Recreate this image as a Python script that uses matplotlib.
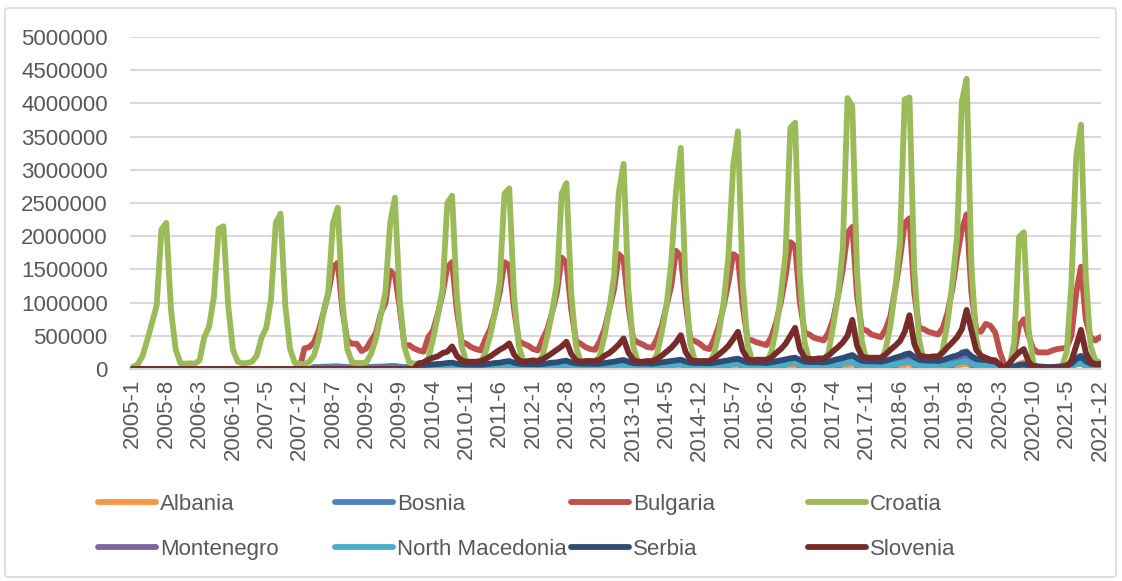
import numpy as np
import matplotlib
matplotlib.use('Agg')
import matplotlib.pyplot as plt
from matplotlib.patches import FancyBboxPatch

plt.rcParams['font.family'] = ['Liberation Sans', 'DejaVu Sans']

# monthly values 2005-1 .. 2021-12, in thousands (one line per year)
albania = [0] * 132 + [
    10, 10, 15, 20, 30, 40, 50, 55, 35, 20, 10, 10,
    10, 10, 15, 25, 35, 45, 60, 65, 40, 20, 10, 10,
    10, 10, 15, 25, 35, 45, 60, 70, 40, 20, 10, 10,
    10, 10, 15, 25, 35, 50, 65, 75, 45, 20, 10, 10,
    10, 10, 5, 0, 5, 30, 80, 100, 40, 10, 5, 5,
    5, 5, 5, 10, 20, 40, 70, 80, 40, 20, 10, 10,
]
bosnia = [0] * 36 + [
    0, 0, 30, 30, 35, 35, 40, 40, 35, 30, 30, 30,
    30, 30, 30, 35, 35, 40, 45, 45, 35, 30, 30, 30,
    40, 40, 45, 50, 55, 60, 65, 70, 55, 50, 45, 45,
    45, 45, 50, 55, 60, 70, 80, 85, 65, 55, 50, 50,
    50, 50, 55, 60, 70, 75, 85, 90, 70, 60, 55, 55,
    55, 50, 55, 65, 75, 80, 90, 100, 75, 60, 55, 55,
    55, 55, 60, 70, 80, 90, 100, 105, 80, 65, 60, 60,
    60, 55, 65, 75, 85, 95, 110, 115, 90, 70, 65, 65,
    65, 60, 70, 80, 95, 105, 120, 130, 100, 75, 70, 70,
    70, 65, 75, 90, 105, 120, 140, 150, 110, 85, 75, 75,
    75, 70, 85, 100, 120, 135, 155, 165, 125, 95, 85, 80,
    80, 75, 90, 110, 130, 145, 170, 180, 135, 100, 90, 85,
    75, 70, 35, 10, 15, 25, 40, 50, 40, 30, 25, 20,
    20, 20, 25, 30, 40, 55, 100, 120, 80, 55, 45, 45,
]
bulgaria = [0] * 36 + [
    310, 330, 400, 580, 850, 1130, 1530, 1600, 880, 430, 380, 380,
    270, 310, 430, 540, 830, 990, 1480, 1410, 930, 360, 360, 310,
    280, 260, 480, 580, 830, 1130, 1530, 1610, 880, 410, 380, 330,
    300, 280, 450, 600, 850, 1150, 1610, 1560, 900, 420, 380, 350,
    300, 280, 450, 600, 850, 1150, 1680, 1600, 900, 420, 380, 330,
    300, 290, 420, 600, 900, 1200, 1730, 1650, 950, 450, 400, 370,
    330, 320, 450, 650, 950, 1250, 1780, 1700, 1000, 450, 420, 380,
    320, 300, 450, 650, 950, 1300, 1730, 1680, 950, 450, 430, 400,
    380, 360, 480, 700, 1000, 1400, 1910, 1850, 1000, 550, 520, 470,
    450, 430, 550, 750, 1100, 1500, 2050, 2140, 1100, 600, 580, 520,
    500, 480, 600, 800, 1200, 1650, 2200, 2270, 1150, 620, 600, 560,
    540, 520, 620, 850, 1200, 1700, 2100, 2330, 1150, 600, 560, 680,
    650, 550, 250, 50, 60, 250, 650, 750, 500, 300, 250, 250,
    250, 280, 300, 310, 320, 500, 1150, 1540, 750, 480, 430, 480,
]
croatia = [
    30, 70, 190, 430, 690, 960, 2100, 2200, 890, 290, 85, 80,
    85, 80, 130, 480, 640, 1080, 2110, 2150, 960, 290, 110, 85,
    90, 110, 200, 470, 620, 1050, 2200, 2340, 950, 300, 90, 80,
    70, 110, 200, 450, 850, 1150, 2200, 2430, 1000, 300, 100, 90,
    90, 100, 230, 450, 800, 1150, 2200, 2580, 1050, 330, 100, 80,
    80, 90, 150, 450, 800, 1200, 2500, 2610, 1100, 350, 100, 80,
    80, 100, 250, 500, 850, 1300, 2640, 2720, 1100, 350, 100, 80,
    80, 100, 200, 500, 850, 1300, 2640, 2800, 1150, 350, 100, 80,
    80, 100, 200, 500, 900, 1400, 2660, 3090, 1200, 350, 100, 80,
    80, 100, 220, 550, 950, 1600, 2690, 3330, 1250, 380, 110, 90,
    90, 100, 230, 550, 1000, 1700, 3060, 3580, 1300, 380, 110, 90,
    90, 110, 250, 600, 1100, 1750, 3630, 3710, 1400, 400, 110, 90,
    90, 110, 250, 650, 1100, 1800, 4080, 3960, 1450, 420, 120, 90,
    90, 110, 300, 650, 1200, 1900, 4060, 4090, 1500, 450, 120, 90,
    90, 110, 300, 700, 1300, 2000, 4030, 4370, 1550, 450, 130, 100,
    100, 110, 20, 5, 30, 400, 1990, 2060, 600, 80, 20, 20,
    20, 20, 30, 40, 250, 1300, 3200, 3680, 1400, 350, 130, 100,
]
montenegro = [0] * 60 + [
    5, 5, 5, 8, 15, 30, 50, 55, 20, 8, 5, 5,
    5, 5, 6, 10, 20, 35, 55, 60, 25, 10, 5, 5,
    5, 5, 6, 10, 20, 40, 60, 65, 25, 10, 5, 5,
    5, 5, 6, 10, 25, 45, 70, 75, 30, 10, 5, 5,
    5, 5, 7, 12, 25, 50, 80, 85, 30, 10, 5, 5,
    5, 5, 7, 12, 30, 60, 95, 105, 35, 12, 6, 6,
    6, 6, 8, 15, 35, 70, 130, 140, 40, 15, 6, 6,
    6, 6, 8, 15, 40, 90, 170, 190, 50, 15, 7, 7,
    7, 7, 9, 18, 50, 110, 220, 230, 60, 18, 7, 7,
    7, 7, 10, 20, 55, 120, 250, 265, 65, 20, 8, 8,
    6, 5, 3, 1, 2, 10, 50, 60, 15, 5, 3, 3,
    3, 3, 3, 5, 15, 60, 170, 200, 50, 10, 5, 5,
]
north_macedonia = [0] * 60 + [
    20, 20, 25, 30, 35, 40, 45, 50, 35, 30, 25, 25,
    25, 25, 30, 35, 40, 45, 55, 60, 40, 30, 25, 25,
    25, 25, 30, 35, 40, 50, 60, 65, 45, 35, 30, 30,
    30, 30, 35, 40, 45, 55, 65, 70, 50, 35, 30, 30,
    30, 30, 35, 45, 50, 60, 70, 75, 55, 40, 35, 35,
    35, 30, 40, 45, 55, 65, 75, 85, 60, 45, 40, 40,
    35, 35, 40, 50, 60, 70, 85, 95, 65, 50, 45, 40,
    40, 40, 45, 55, 65, 80, 95, 105, 70, 50, 45, 45,
    45, 40, 50, 60, 70, 85, 100, 110, 75, 55, 50, 45,
    45, 45, 50, 65, 75, 90, 105, 115, 80, 60, 50, 50,
    45, 40, 20, 5, 5, 10, 20, 30, 25, 15, 10, 10,
    10, 10, 10, 15, 20, 35, 70, 85, 50, 30, 25, 25,
]
serbia = [0] * 60 + [
    60, 60, 65, 70, 75, 80, 90, 95, 80, 70, 65, 65,
    65, 65, 70, 80, 90, 95, 110, 120, 95, 80, 75, 75,
    75, 70, 75, 85, 95, 100, 115, 125, 100, 85, 80, 80,
    80, 75, 80, 90, 100, 110, 125, 135, 110, 90, 85, 85,
    85, 80, 90, 100, 110, 120, 130, 140, 115, 95, 90, 90,
    90, 85, 95, 105, 120, 130, 145, 155, 125, 100, 95, 95,
    95, 90, 100, 115, 130, 145, 160, 170, 140, 110, 105, 105,
    105, 100, 110, 130, 150, 165, 190, 210, 160, 125, 115, 115,
    115, 110, 125, 145, 170, 190, 215, 235, 180, 140, 130, 125,
    125, 120, 135, 160, 185, 205, 235, 255, 195, 150, 140, 135,
    120, 110, 60, 15, 25, 40, 60, 70, 55, 45, 40, 35,
    30, 30, 35, 40, 55, 80, 150, 185, 120, 80, 70, 70,
]
slovenia = [0] * 60 + [
    85, 100, 140, 170, 190, 240, 260, 340, 200, 130, 110, 110,
    110, 120, 150, 190, 240, 290, 330, 385, 220, 130, 110, 120,
    130, 120, 150, 190, 240, 290, 340, 410, 230, 130, 110, 120,
    120, 120, 140, 200, 240, 300, 370, 460, 250, 140, 110, 110,
    120, 120, 150, 200, 260, 320, 400, 510, 260, 140, 120, 120,
    120, 120, 160, 220, 280, 350, 450, 560, 280, 150, 130, 140,
    140, 140, 170, 240, 300, 380, 500, 620, 300, 170, 150, 150,
    160, 160, 200, 270, 330, 400, 500, 740, 350, 190, 170, 170,
    170, 170, 220, 290, 350, 420, 560, 810, 380, 210, 190, 180,
    190, 190, 250, 330, 400, 480, 600, 890, 580, 290, 200, 170,
    140, 130, 60, 5, 90, 180, 250, 300, 110, 40, 20, 20,
    15, 15, 15, 20, 30, 130, 350, 590, 250, 110, 70, 80,
]

months = [f'{y}-{m}' for y in range(2005, 2022) for m in range(1, 13)]

series = [
    ('Albania', albania, '#F79646'),
    ('Bosnia', bosnia, '#4F81BD'),
    ('Bulgaria', bulgaria, '#C0504D'),
    ('Croatia', croatia, '#9BBB59'),
    ('Montenegro', montenegro, '#8064A2'),
    ('North Macedonia', north_macedonia, '#4BACC6'),
    ('Serbia', serbia, '#2C4D75'),
    ('Slovenia', slovenia, '#772C2A'),
]

fig = plt.figure(figsize=(11.22, 5.81), dpi=100)
ax = fig.add_axes([130 / 1122, 1 - 369 / 581, (1101 - 130) / 1122, (369 - 37) / 581])

x = np.arange(len(months))
handles = []
for name, vals, col in series:
    h, = ax.plot(x, np.array(vals) * 1000, color=col, lw=4.2,
                 solid_capstyle='round', solid_joinstyle='round', label=name)
    handles.append(h)

ax.set_xlim(-0.6, 203.2)
ax.set_ylim(0, 5000000)
ax.set_yticks(np.arange(0, 5000001, 500000))
ax.set_yticklabels([str(v) for v in range(0, 5000001, 500000)])
ax.set_xticks(x[::7])
ax.set_xticklabels(months[::7], rotation=90)
ax.tick_params(axis='y', length=0, pad=16, labelsize=16, labelcolor='#595959')
ax.tick_params(axis='x', length=0, pad=7, labelsize=16, labelcolor='#595959')
ax.grid(axis='y', color='#D9D9D9', lw=1.5)
ax.set_axisbelow(True)
for s in ['top', 'right', 'left']:
    ax.spines[s].set_visible(False)
ax.spines['bottom'].set_color('#D9D9D9')
ax.spines['bottom'].set_linewidth(1.5)

# legend: 4 columns of 2 entries
col_x = [98 / 1122, 335 / 1122, 571 / 1122, 808 / 1122]
for i in range(4):
    leg = fig.legend(handles=[handles[i], handles[i + 4]], loc='upper left',
                     bbox_to_anchor=(col_x[i], 1 - 494 / 581), frameon=False,
                     fontsize=16, handlelength=2.6, handletextpad=0.2,
                     labelspacing=1.08, borderpad=0, borderaxespad=0)
    for t in leg.get_texts():
        t.set_color('#595959')

# chart area border
fig.patches.append(FancyBboxPatch((5 / 1122, 4 / 581), 1111 / 1122, 569 / 581,
                                  boxstyle='round,pad=0,rounding_size=0.004',
                                  transform=fig.transFigure, fill=False,
                                  ec='#D9D9D9', lw=1.2))

fig.savefig('out.png', dpi=100)
